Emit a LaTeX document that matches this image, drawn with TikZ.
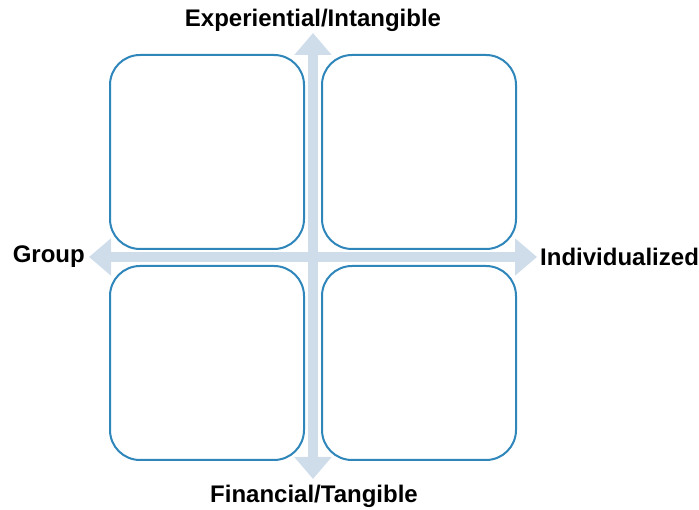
\documentclass[tikz,border=0pt]{standalone}
\usepackage{fontspec}
\setmainfont{Liberation Sans}
\usetikzlibrary{arrows.meta}
\definecolor{quadline}{RGB}{46,134,187}
\definecolor{axisfill}{RGB}{207,221,235}
\begin{document}
\begin{tikzpicture}[x=1pt,y=-1pt,
  quadbox/.style={draw=quadline,line width=2pt,rounded corners=30pt,
    minimum width=194pt,minimum height=194pt,inner sep=0pt},
  axis/.style={draw=axisfill,line width=10pt,
    {Triangle[width=36pt,length=22pt]}-{Triangle[width=36pt,length=22pt]}},
  axislabel/.style={font=\bfseries\fontsize{24}{28}\selectfont,inner sep=0pt}]
  \useasboundingbox (0,0) rectangle (699,510);
  % axis end points
  \coordinate (top) at (313,33);
  \coordinate (bottom) at (313,479);
  \coordinate (left) at (89,257);
  \coordinate (right) at (537,257);
  \draw[axis] (bottom) -- (top);
  \draw[axis] (left) -- (right);
  % quadrants
  \node[quadbox] (tl) at (207,152) {};
  \node[quadbox] (tr) at (419,152) {};
  \node[quadbox] (bl) at (207,363) {};
  \node[quadbox] (br) at (419,363) {};
  % axis labels
  \node[axislabel] (ltop) at (313,20) {Experiential/Intangible};
  \node[axislabel] (lbottom) at (314,496) {Financial/Tangible};
  \node[axislabel,anchor=east] (lleft) at (85,257) {Group};
  \node[axislabel,anchor=west] (lright) at (540,257) {Individualized};
\end{tikzpicture}
\end{document}
